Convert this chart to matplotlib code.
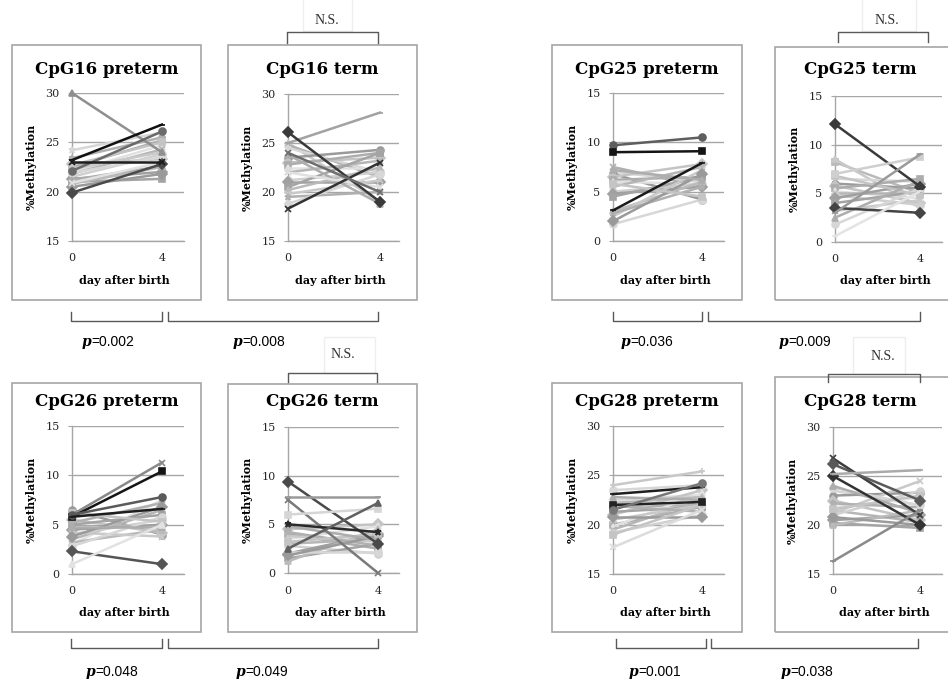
import numpy as np
import matplotlib.pyplot as plt
from matplotlib.patches import Rectangle
from matplotlib.lines import Line2D

W, H = 948, 685

days = [0, 4]

# %methylation per subject, day 0 and day 4
cpg16_pre_d0 = [30.0, 23.2, 22.1, 19.9, 24.2, 23.0, 22.8, 22.5, 22.0, 21.8, 21.5,
                21.3, 21.0, 20.8, 22.3, 23.4, 21.9, 20.5, 22.7, 21.2, 20.9]
cpg16_pre_d4 = [24.0, 26.8, 26.1, 22.8, 26.0, 23.0, 23.3, 25.2, 24.7, 24.3, 23.8,
                22.0, 21.3, 22.5, 24.0, 25.5, 23.5, 21.8, 25.0, 22.6, 23.0]

cpg16_term_d0 = [25.0, 26.1, 25.0, 24.8, 24.5, 23.5, 23.0, 22.8, 22.5, 22.0, 21.2,
                 21.0, 20.5, 20.2, 19.8, 19.5, 18.8, 18.3, 24.0, 23.8, 22.0]
cpg16_term_d4 = [28.1, 19.0, 19.0, 21.5, 22.0, 24.3, 23.5, 24.0, 22.5, 23.2, 22.0,
                 21.0, 24.0, 22.5, 21.2, 20.0, 21.8, 23.0, 20.0, 18.8, 20.5]

cpg25_pre_d0 = [9.7, 9.0, 3.1, 7.5, 7.0, 6.8, 6.5, 6.2, 6.0, 5.5, 5.0, 4.8, 4.5,
                3.0, 2.5, 2.8, 1.7, 2.0, 5.8, 7.2]
cpg25_pre_d4 = [10.5, 9.1, 7.9, 5.5, 6.0, 4.2, 7.8, 6.5, 5.8, 7.5, 5.8, 5.5, 6.5,
                6.0, 7.2, 5.5, 4.2, 6.8, 4.5, 6.2]

cpg25_term_d0 = [12.1, 8.2, 8.5, 7.0, 6.5, 6.0, 5.8, 5.5, 5.2, 5.0, 4.8, 4.5, 4.0,
                 3.5, 3.2, 3.0, 1.8, 0.6, 6.8, 2.5]
cpg25_term_d4 = [5.7, 5.0, 3.5, 8.7, 6.2, 5.5, 4.0, 6.5, 4.5, 5.0, 3.8, 6.0, 5.2,
                 3.0, 4.3, 9.0, 5.5, 5.2, 4.8, 6.3]

cpg26_pre_d0 = [6.0, 5.8, 6.0, 5.8, 2.3, 6.5, 5.5, 1.0, 3.0, 3.5, 4.0, 4.5, 5.0,
                3.2, 4.2, 5.2, 2.8, 3.8, 6.2, 4.8]
cpg26_pre_d4 = [11.3, 10.4, 7.8, 6.6, 1.0, 4.0, 4.2, 5.0, 7.5, 6.5, 5.5, 5.0, 6.0,
                4.5, 3.8, 7.2, 5.8, 6.8, 5.3, 4.8]

cpg26_term_d0 = [9.4, 7.5, 5.0, 6.0, 7.8, 2.5, 4.5, 4.0, 3.5, 3.0, 2.8, 2.0, 1.5,
                 1.2, 3.8, 4.2, 2.2, 1.8, 3.2, 4.8]
cpg26_term_d4 = [3.0, 0.0, 4.2, 6.6, 7.8, 7.2, 5.0, 2.5, 4.8, 3.5, 2.0, 4.0, 3.0,
                 4.5, 3.2, 2.8, 2.2, 3.8, 4.0, 3.4]

cpg28_pre_d0 = [24.0, 23.1, 22.0, 21.8, 22.5, 21.5, 21.0, 20.0, 19.8, 19.5, 19.2,
                17.7, 21.3, 22.2, 20.5, 21.9, 23.5, 20.8, 19.0, 22.8]
cpg28_pre_d4 = [25.4, 23.8, 22.3, 22.0, 23.0, 24.2, 23.5, 21.8, 23.2, 22.5, 21.0,
                21.5, 21.8, 22.8, 22.0, 21.3, 24.0, 20.8, 22.0, 22.5]

cpg28_term_d0 = [26.8, 26.2, 25.0, 25.2, 23.5, 23.0, 22.5, 16.3, 21.8, 21.5, 21.0,
                 20.5, 20.2, 20.0, 21.2, 22.2, 23.8, 20.8, 21.6, 24.0]
cpg28_term_d4 = [21.0, 22.5, 20.0, 25.6, 22.0, 23.3, 20.5, 21.5, 22.8, 20.3, 23.5,
                 21.0, 19.7, 21.5, 24.5, 21.8, 22.0, 20.0, 23.0, 21.2]

titles = ["CpG16 preterm", "CpG16 term", "CpG25 preterm", "CpG25 term",
          "CpG26 preterm", "CpG26 term", "CpG28 preterm", "CpG28 term"]
yticks_hi = [15, 20, 25, 30]
yticks_lo = [0, 5, 10, 15]

series = [(cpg16_pre_d0, cpg16_pre_d4), (cpg16_term_d0, cpg16_term_d4),
          (cpg25_pre_d0, cpg25_pre_d4), (cpg25_term_d0, cpg25_term_d4),
          (cpg26_pre_d0, cpg26_pre_d4), (cpg26_term_d0, cpg26_term_d4),
          (cpg28_pre_d0, cpg28_pre_d4), (cpg28_term_d0, cpg28_term_d4)]
yticks = [yticks_hi, yticks_hi, yticks_lo, yticks_lo,
          yticks_lo, yticks_lo, yticks_hi, yticks_hi]

p_labels = ["=0.002", "=0.008", "=0.036", "=0.009",
            "=0.048", "=0.049", "=0.001", "=0.038"]

# layout in pixels: frame (x0, y0, x1, y1), axes (left, top, right, bottom), xmax
frames = [(12, 45, 201, 300), (228, 45, 417, 300), (552, 45, 742, 300), (775, 47, 960, 300),
          (12, 383, 201, 632), (228, 384, 417, 632), (552, 383, 742, 632), (775, 377, 960, 632)]
axboxes = [(72, 93, 184, 241), (288, 94, 399, 241), (613, 93, 724, 241), (835, 96, 942, 242),
           (72, 426, 184, 574), (288, 427, 399, 573), (613, 426, 724, 574), (833, 427, 942, 574)]
xmaxes = [4.98, 4.83, 4.99, 5.03, 4.98, 4.93, 4.99, 5.0]
title_x = [107, 322, 647, 860, 107, 322, 647, 860]

# default look: mostly mid/light greys, a few darker series picked out below
grays = ['#a4a4a4', '#bababa', '#c9c9c9', '#b0b0b0', '#d7d7d7', '#9a9a9a', '#c4c4c4',
         '#adadad', '#e1e1e1', '#b6b6b6', '#d0d0d0', '#a0a0a0']
marks = ['D', 's', '^', 'x', '*', 'o', 'D', 's', '^', 'x', 'o']
dark = {
    0: {0: ('#8f8f8f', '^'), 1: ('#111111', '_'), 2: ('#6a6a6a', 'o'),
        3: ('#4a4a4a', 'D'), 5: ('#1e1e1e', 'x')},
    1: {0: ('#a2a2a2', '_'), 1: ('#3a3a3a', 'D'), 17: ('#333333', 'x'),
        18: ('#6e6e6e', 'x')},
    2: {0: ('#5e5e5e', 'o'), 1: ('#151515', 's'), 2: ('#1a1a1a', '_')},
    3: {0: ('#3a3a3a', 'D'), 13: ('#444444', 'D'), 3: ('#cfcfcf', 's'),
        15: ('#9a9a9a', '_'), 17: ('#e4e4e4', '_')},
    4: {0: ('#8a8a8a', 'x'), 1: ('#151515', 's'), 2: ('#5a5a5a', 'o'),
        3: ('#1e1e1e', '_'), 4: ('#555555', 'D'), 7: ('#e2e2e2', '^')},
    5: {0: ('#4a4a4a', 'D'), 1: ('#7a7a7a', 'x'), 2: ('#2a2a2a', '*'),
        3: ('#d6d6d6', 's'), 4: ('#9a9a9a', '_'), 5: ('#606060', '^')},
    6: {0: ('#c8c8c8', '+'), 1: ('#1e1e1e', '_'), 2: ('#222222', 's'),
        5: ('#777777', 'o'), 11: ('#dcdcdc', 'x')},
    7: {0: ('#3e3e3e', 'x'), 1: ('#5a5a5a', 'D'), 2: ('#333333', 'D'),
        3: ('#aaaaaa', '_'), 7: ('#8a8a8a', '_')},
}

fig = plt.figure(figsize=(W / 100, H / 100), dpi=100)


def fx(x):
    return x / W


def fy(y):
    return 1 - y / H


def fig_line(xs, ys, color='#595959', lw=1.0):
    fig.add_artist(Line2D([fx(v) for v in xs], [fy(v) for v in ys],
                          transform=fig.transFigure, color=color, lw=lw))


def fig_box(x0, y0, x1, y1, color='#a6a6a6', lw=1.2):
    fig.add_artist(Rectangle((fx(x0), fy(y1)), (x1 - x0) / W, (y1 - y0) / H,
                             transform=fig.transFigure, fill=False, ec=color, lw=lw))


for i in range(8):
    x0, y0, x1, y1 = frames[i]
    fig_box(x0, y0, x1, y1)
    l, t, r, b = axboxes[i]
    ax = fig.add_axes([fx(l), fy(b), (r - l) / W, (b - t) / H])
    d0, d4 = series[i]
    n = len(d0)
    # light lines first, dark ones on top
    order = [k for k in range(n) if k not in dark[i]] + [k for k in range(n) if k in dark[i]]
    for k in order:
        c, m = dark[i].get(k, (grays[k % len(grays)], marks[k % len(marks)]))
        ax.plot(days, [d0[k], d4[k]], color=c, marker=m, markersize=5,
                markeredgewidth=1.2, lw=1.8, clip_on=False, zorder=3)
    yt = yticks[i]
    ax.set_ylim(yt[0], yt[-1])
    ax.set_xlim(0, xmaxes[i])
    ax.set_yticks(yt)
    ax.set_xticks(days)
    ax.set_xticklabels(['0', '4'])
    ax.yaxis.grid(True, color='#a6a6a6', lw=1.0, zorder=0)
    ax.set_axisbelow(True)
    for s in ['top', 'right']:
        ax.spines[s].set_visible(False)
    for s in ['left', 'bottom']:
        ax.spines[s].set_color('#a6a6a6')
        ax.spines[s].set_linewidth(1.0)
    ax.tick_params(axis='y', length=3, color='#a6a6a6', pad=6,
                   labelsize=8, labelcolor='#262626')
    ax.tick_params(axis='x', length=0, pad=9, labelsize=8, labelcolor='#262626')
    for lab in ax.get_xticklabels() + ax.get_yticklabels():
        lab.set_family('DejaVu Serif')
    ax.set_ylabel('%Methylation', family='DejaVu Serif', fontweight='bold', fontsize=8)
    ax.yaxis.set_label_coords(-35 / (r - l), 0.5)
    ax.set_xlabel('day after birth', family='DejaVu Serif', fontweight='bold', fontsize=8)
    ax.xaxis.set_label_coords(0.47, -(y1 - 25 - b) / (b - t))
    ty = 70 if i < 4 else 402
    fig.text(fx(title_x[i]), fy(ty), titles[i], family='DejaVu Serif',
             fontweight='bold', fontsize=12, ha='center', va='center')

# N.S. brackets above the term panels
ns_brackets = [(287, 378, 32, 43), (838, 928, 32, 42), (288, 377, 373, 382), (828, 920, 374, 382)]
ns_text = [(327, 21), (887, 21), (343, 355), (883, 357)]
ns_boxes = [(303, -5, 352, 31), (862, -5, 916, 31), (324, 337, 375, 373), (853, 337, 905, 374)]
for (a, c, y, tip), (tx, ty), bx in zip(ns_brackets, ns_text, ns_boxes):
    fig_box(*bx, color='#eeeeee', lw=1.0)
    fig_line([a, a, c, c], [tip, y, y, tip])
    fig.text(fx(tx), fy(ty), 'N.S.', family='Liberation Serif', fontsize=10,
             ha='center', va='center', color='#333333')

# p-value brackets below
p_brackets = [(71, 162, 321, 312), (168, 378, 321, 312), (613, 702, 321, 312), (708, 920, 321, 312),
              (71, 162, 648, 639), (168, 378, 648, 639), (616, 706, 648, 639), (711, 918, 648, 639)]
p_centers = [(111, 342), (262, 342), (650, 342), (808, 342),
             (115, 672), (265, 672), (658, 672), (810, 672)]
for (a, c, y, tip), (cx, cy), lab in zip(p_brackets, p_centers, p_labels):
    fig_line([a, a, c, c], [tip, y, y, tip])
    xp = cx - 20
    fig.text(fx(xp), fy(cy), 'p', family='DejaVu Serif', fontstyle='italic',
             fontweight='bold', fontsize=10, ha='right', va='center')
    fig.text(fx(xp), fy(cy), lab, family='Liberation Sans', fontsize=10,
             ha='left', va='center')

fig.savefig('out.png', dpi=100)
